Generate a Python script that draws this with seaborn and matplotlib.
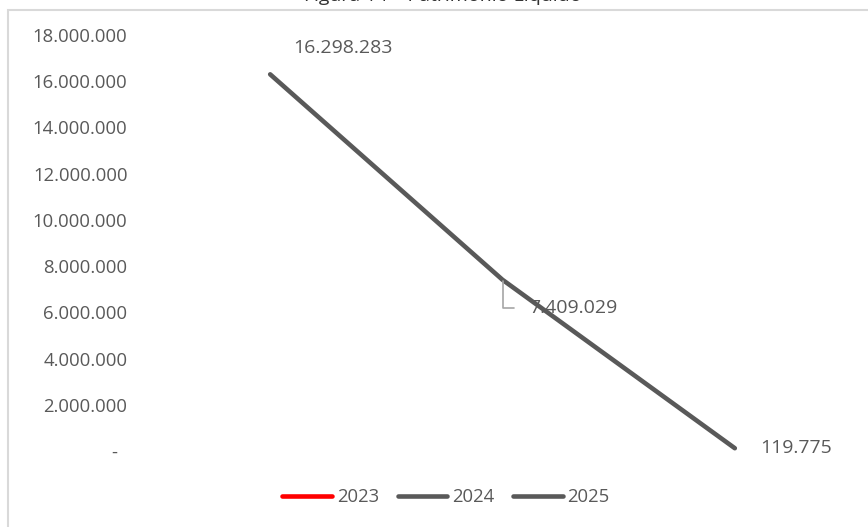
import seaborn as sns
import pandas as pd
import numpy as np
import matplotlib.pyplot as plt
from matplotlib.lines import Line2D
from matplotlib.patches import Rectangle
from matplotlib.ticker import FuncFormatter

# dados do gráfico
periodos = ["2023", "2024", "2025"]
valores = [16298283, 7409029, 119775]
legenda_cores = ["#ff0000", "#595959", "#595959"]
titulo = "Figura 14 – Patrimônio Líquido"

df = pd.DataFrame({"pos": range(len(periodos)), "valor": valores})

sns.set_style("white")
plt.rcParams["font.family"] = ["Open Sans", "DejaVu Sans"]

fig = plt.figure(figsize=(8.68, 5.27), dpi=100)
ax = fig.add_axes([154 / 868, 1 - 451 / 527, (851 - 154) / 868, (451 - 35) / 527])

sns.lineplot(data=df, x="pos", y="valor", color="#595959", linewidth=3.3,
             solid_capstyle="round", ax=ax)

ax.set_xlim(-0.5, 2.5)
ax.set_ylim(0, 18000000)
ax.set_yticks(np.arange(0, 18000001, 2000000))
ax.set_xticks([])
ax.set_xlabel("")
ax.set_ylabel("")


def fmt(v, pos):
    if v == 0:
        return "-  "
    return f"{v:,.0f}".replace(",", ".")


ax.yaxis.set_major_formatter(FuncFormatter(fmt))
ax.tick_params(axis="y", length=0, pad=19, labelsize=13.3, labelcolor="#595959")
for s in ax.spines.values():
    s.set_visible(False)


def rot(v):
    return f"{v:,.0f}".replace(",", ".")


# rótulos dos pontos
ax.annotate(rot(valores[0]), (0, valores[0]), xytext=(16.5, 19), textcoords="offset points",
            ha="left", va="center", fontsize=14, color="#595959")
ax.annotate(rot(valores[1]), (1, valores[1]), xytext=(19, -20), textcoords="offset points",
            ha="left", va="center", fontsize=14, color="#595959",
            arrowprops=dict(arrowstyle="-", color="#a6a6a6", lw=1.2,
                            connectionstyle="angle,angleA=0,angleB=90,rad=0",
                            relpos=(0, 0.5), shrinkA=8, shrinkB=1))
ax.annotate(rot(valores[2]), (2, valores[2]), xytext=(18, 0), textcoords="offset points",
            ha="left", va="center", fontsize=14, color="#595959")

handles = [Line2D([0], [0], color=c, lw=3.3, solid_capstyle="round") for c in legenda_cores]
fig.legend(handles, periodos, loc="center", bbox_to_anchor=(446 / 868, 1 - 497 / 527),
           ncol=3, frameon=False, fontsize=13.3, labelcolor="#595959",
           handlelength=2.7, handletextpad=0.25, columnspacing=1.0)

# borda e título (cortado no topo, como na figura original)
fig.patches.append(Rectangle((8 / 868, -0.05), 1.1, 1.05 - 10 / 527, transform=fig.transFigure,
                             fill=False, edgecolor="#d9d9d9", lw=1.5))
fig.text(443 / 868, 1 + 4 / 527, titulo, ha="center", va="center", fontsize=14, color="#333333")

fig.savefig("out.png", dpi=100)
